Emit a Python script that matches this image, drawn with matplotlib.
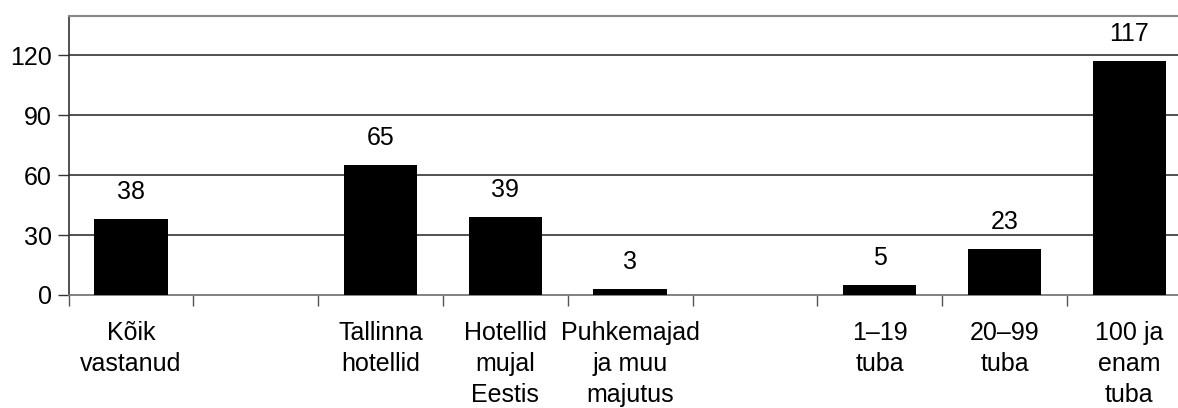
import numpy as np
import matplotlib.pyplot as plt

# categories (empty strings are gaps between groups)
kategooriad = ['Kõik\nvastanud', '', 'Tallinna\nhotellid', 'Hotellid\nmujal\nEestis',
               'Puhkemajad\nja muu\nmajutus', '', '1–19\ntuba', '20–99\ntuba',
               '100 ja\nenam\ntuba']
vaartused = [38, None, 65, 39, 3, None, 5, 23, 117]
y_ticks = [0, 30, 60, 90, 120]

plt.rcParams['font.family'] = ['Liberation Sans', 'DejaVu Sans']

W, H = 1178, 408
fig = plt.figure(figsize=(W / 100, H / 100), dpi=100)
ax = fig.add_axes([68.5 / W, (H - 295) / H, 9 * 124.8 / W, (295 - 15.5) / H])

x = np.arange(len(kategooriad))
for xi, v in zip(x, vaartused):
    if v is None:
        continue
    ax.bar(xi, v, width=0.588, color='black', zorder=3)
    ax.annotate(str(v), (xi, v), xytext=(0, 11), textcoords='offset points',
                ha='center', va='bottom', fontsize=18, color='black')

ax.set_xlim(-0.5, len(kategooriad) - 0.5)
ax.set_ylim(0, 140)
ax.set_yticks(y_ticks)
ax.set_yticklabels([str(t) for t in y_ticks], fontsize=18)
for t in y_ticks[1:]:
    ax.axhline(t, color='#222222', lw=1.1, zorder=1)

ax.set_xticks(x)
ax.set_xticklabels(kategooriad, fontsize=18, linespacing=1.36, va='top')
ax.set_xticks(np.arange(len(kategooriad) + 1) - 0.5, minor=True)
ax.tick_params(axis='x', which='major', length=0, pad=19)
ax.tick_params(axis='x', which='minor', length=8, width=1, color='#555555')
ax.tick_params(axis='y', length=8, width=1, color='#333333', pad=4)

ax.spines['right'].set_visible(False)
ax.spines['top'].set_color('#888888')
ax.spines['top'].set_linewidth(1.5)
ax.spines['bottom'].set_color('#777777')
ax.spines['bottom'].set_linewidth(1.3)
ax.spines['left'].set_color('#333333')
ax.spines['left'].set_linewidth(1.2)

fig.savefig('out.png', dpi=100)
